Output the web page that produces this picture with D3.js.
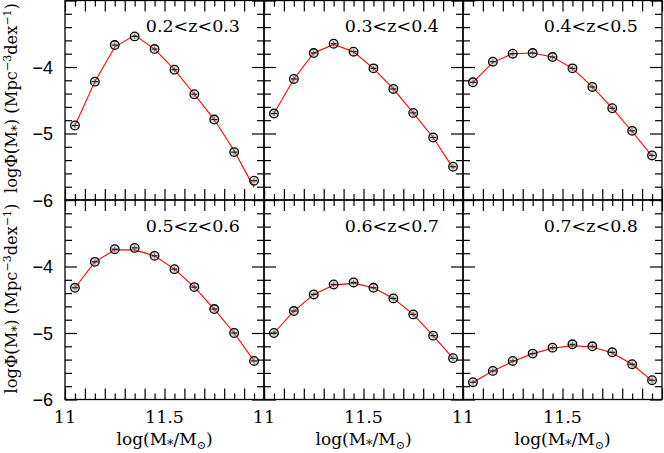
<!DOCTYPE html>
<html><head><meta charset="utf-8">
<script src="https://cdn.jsdelivr.net/npm/d3@7"></script>
<style>
html,body{margin:0;padding:0;background:#fff;}
svg{display:block;}
</style></head>
<body>
<svg id="chart" width="664" height="453"></svg>
<script>
// ---- data ----
const massBins = [11.05, 11.15, 11.25, 11.35, 11.45, 11.55, 11.65, 11.75, 11.85, 11.95];
const zLabels = ["0.2<z<0.3", "0.3<z<0.4", "0.4<z<0.5", "0.5<z<0.6", "0.6<z<0.7", "0.7<z<0.8"];
const phi_z02 = [-4.88, -4.22, -3.67, -3.54, -3.73, -4.04, -4.41, -4.79, -5.28, -5.71];
const phi_z03 = [-4.70, -4.18, -3.79, -3.65, -3.77, -4.02, -4.33, -4.69, -5.06, -5.50];
const phi_z04 = [-4.23, -3.92, -3.80, -3.79, -3.85, -4.02, -4.30, -4.62, -4.96, -5.33];
const phi_z05 = [-4.32, -3.93, -3.74, -3.72, -3.84, -4.04, -4.31, -4.64, -5.00, -5.42];
const phi_z06 = [-5.00, -4.67, -4.42, -4.27, -4.24, -4.32, -4.48, -4.72, -5.04, -5.38];
const phi_z07 = [-5.74, -5.57, -5.42, -5.31, -5.22, -5.17, -5.20, -5.29, -5.47, -5.71];
const fit_z02 = [-4.88, -4.22, -3.70, -3.52, -3.73, -4.04, -4.41, -4.79, -5.26, -5.81];
const fit_z03 = [-4.70, -4.18, -3.79, -3.66, -3.77, -4.02, -4.33, -4.69, -5.06, -5.52];
const fit_z04 = [-4.23, -3.93, -3.80, -3.79, -3.85, -4.02, -4.30, -4.62, -4.97, -5.34];
const fit_z05 = [-4.32, -3.93, -3.75, -3.75, -3.84, -4.04, -4.31, -4.64, -5.00, -5.42];
const fit_z06 = [-5.00, -4.67, -4.42, -4.28, -4.25, -4.32, -4.48, -4.72, -5.04, -5.38];
const fit_z07 = [-5.74, -5.57, -5.43, -5.31, -5.23, -5.19, -5.21, -5.30, -5.47, -5.72];
const xTickLabels = [11, 11.5];
const yTickLabels = [-4, -5, -6];
const xDomain = [11, 12];
const yDomain = [-6, -3];

const phiSeries = [phi_z02, phi_z03, phi_z04, phi_z05, phi_z06, phi_z07];
const fitSeries = [fit_z02, fit_z03, fit_z04, fit_z05, fit_z06, fit_z07];

// ---- layout ----
const svg = d3.select("#chart");
const mLeft = 65, mTop = 0.5, pw = 199, ph = 199.5;
const serif = "'DejaVu Serif', serif";
const sans = "'Liberation Sans', Arial, sans-serif";

function ticksBetween(a, b, step) {
  const out = [];
  const n = Math.round((b - a) / step);
  for (let i = 0; i <= n; i++) out.push(+(a + i * step).toFixed(4));
  return out;
}
const xMinor = ticksBetween(11, 12, 0.05).filter(v => Math.abs(v * 10 - Math.round(v * 10)) > 1e-6);
const xMajor = ticksBetween(11, 12, 0.1);
const yMinor = ticksBetween(-6, -3, 0.2).filter(v => Math.abs(v - Math.round(v)) > 1e-6);
const yMajor = ticksBetween(-6, -3, 1);

for (let p = 0; p < 6; p++) {
  const col = p % 3, row = Math.floor(p / 3);
  const x0 = mLeft + col * pw, y0 = mTop + row * ph;
  const x = d3.scaleLinear().domain(xDomain).range([x0, x0 + pw]);
  const y = d3.scaleLinear().domain(yDomain).range([y0 + ph, y0]);
  const g = svg.append("g");

  const axStyle = sel => { sel.select(".domain").remove(); sel.selectAll("line").attr("stroke", "#000").attr("stroke-width", 1.2); };

  g.append("g").attr("transform", `translate(0,${y0 + ph})`)
    .call(d3.axisBottom(x).tickValues(xMajor).tickSize(-11).tickFormat("")).call(axStyle);
  g.append("g").attr("transform", `translate(0,${y0 + ph})`)
    .call(d3.axisBottom(x).tickValues(xMinor).tickSize(-6).tickFormat("")).call(axStyle);
  g.append("g").attr("transform", `translate(0,${y0})`)
    .call(d3.axisTop(x).tickValues(xMajor).tickSize(-11).tickFormat("")).call(axStyle);
  g.append("g").attr("transform", `translate(0,${y0})`)
    .call(d3.axisTop(x).tickValues(xMinor).tickSize(-6).tickFormat("")).call(axStyle);
  g.append("g").attr("transform", `translate(${x0},0)`)
    .call(d3.axisLeft(y).tickValues(yMajor).tickSize(-12).tickFormat("")).call(axStyle);
  g.append("g").attr("transform", `translate(${x0},0)`)
    .call(d3.axisLeft(y).tickValues(yMinor).tickSize(-7).tickFormat("")).call(axStyle);
  g.append("g").attr("transform", `translate(${x0 + pw},0)`)
    .call(d3.axisRight(y).tickValues(yMajor).tickSize(-12).tickFormat("")).call(axStyle);
  g.append("g").attr("transform", `translate(${x0 + pw},0)`)
    .call(d3.axisRight(y).tickValues(yMinor).tickSize(-7).tickFormat("")).call(axStyle);

  g.append("rect").attr("x", x0).attr("y", y0).attr("width", pw).attr("height", ph)
    .attr("fill", "none").attr("stroke", "#000").attr("stroke-width", 1.3);

  if (col === 0) {
    g.selectAll(".ylab").data(yTickLabels).enter().append("text")
      .attr("x", x0 - 12).attr("y", d => y(d) + 6.5)
      .attr("text-anchor", "end").attr("font-family", sans).attr("font-size", 18)
      .text(d => "\u2212" + Math.abs(d));
  }
  if (row === 1) {
    g.selectAll(".xlab").data(xTickLabels).enter().append("text")
      .attr("x", d => x(d)).attr("y", y0 + ph + 23)
      .attr("text-anchor", "middle").attr("font-family", serif).attr("font-size", 17.5)
      .text(d => d);
    const t = g.append("text").attr("x", x0 + pw / 2).attr("y", y0 + ph + 45)
      .attr("text-anchor", "middle").attr("font-family", serif).attr("font-size", 17);
    t.append("tspan").text("log(M");
    t.append("tspan").attr("dy", 4).attr("font-size", 13).text("*");
    t.append("tspan").attr("dy", -4).text("/M");
    t.append("tspan").attr("dy", 4).attr("font-size", 11).text("\u2299");
    t.append("tspan").attr("dy", -4).text(")");
  }

  g.append("text").attr("x", x0 + pw - 24).attr("y", y0 + 31.5)
    .attr("text-anchor", "end").attr("font-family", serif).attr("font-size", 17.5)
    .text(zLabels[p]);

  const vals = phiSeries[p], fit = fitSeries[p];
  g.append("path").datum(massBins.map((m, i) => [m, fit[i]]))
    .attr("d", d3.line().x(d => x(d[0])).y(d => y(d[1])))
    .attr("fill", "none").attr("stroke", "#ff0000").attr("stroke-width", 1.1);

  const pts = g.selectAll(".pt").data(massBins.map((m, i) => [m, vals[i]])).enter().append("g")
    .attr("transform", d => `translate(${x(d[0])},${y(d[1])})`);
  pts.append("circle").attr("r", 4.3).attr("fill", "rgba(160,160,160,0.35)").attr("stroke", "#000").attr("stroke-width", 1.3);
  pts.append("line").attr("x1", -3).attr("x2", 3).attr("y1", 0).attr("y2", 0)
    .attr("stroke", "#000").attr("stroke-width", 1.1);
  pts.append("line").attr("x1", 0).attr("x2", 0).attr("y1", -2.5).attr("y2", 2.5)
    .attr("stroke", "#444").attr("stroke-width", 0.8);
}

const yTitleCenters = [98, 298.5];
for (let row = 0; row < 2; row++) {
  const t = svg.append("text").attr("transform", `translate(17,${yTitleCenters[row]}) rotate(-90)`)
    .attr("text-anchor", "middle").attr("font-family", serif).attr("font-size", 16.3);
  t.append("tspan").text("log\u03A6(M");
  t.append("tspan").attr("dy", 4).attr("font-size", 12).text("*");
  t.append("tspan").attr("dy", -4).text(")  (Mpc");
  t.append("tspan").attr("dy", -6).attr("font-size", 11).text("\u22123");
  t.append("tspan").attr("dy", 6).text("dex");
  t.append("tspan").attr("dy", -6).attr("font-size", 11).text("\u22121");
  t.append("tspan").attr("dy", 6).text(")");
}
</script>
</body></html>
